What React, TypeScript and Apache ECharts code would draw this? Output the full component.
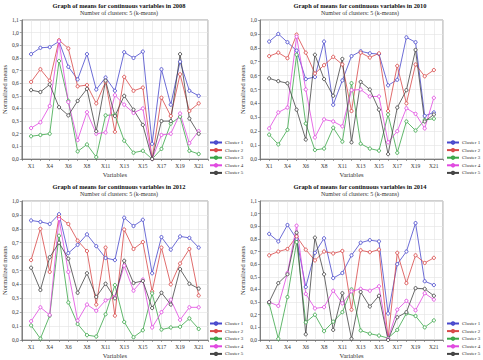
import React, { useEffect, useRef } from "react";
import * as echarts from "echarts";

const CATEGORIES = ["X1","X3","X4","X5","X6","X7","X8","X10","X11","X12","X13","X14","X15","X16","X17","X18","X19","X20","X21"];
const CLUSTERS = ["Cluster 1", "Cluster 2", "Cluster 3", "Cluster 4", "Cluster 5"];
const YEARS = ["2008", "2010", "2012", "2014"];
const Y_MAX = [1.1, 1.0, 1.0, 1.1];

const Y2008_C1 = [0.83,0.88,0.885,0.93,0.73,0.63,0.83,0.55,0.645,0.54,0.845,0.80,0.85,0.12,0.71,0.43,0.77,0.54,0.50];
const Y2008_C2 = [0.61,0.71,0.62,0.94,0.875,0.575,0.585,0.44,0.61,0.215,0.65,0.54,0.565,0.0,0.485,0.34,0.67,0.38,0.44];
const Y2008_C3 = [0.18,0.19,0.20,0.775,0.46,0.06,0.115,0.015,0.345,0.35,0.145,0.05,0.065,0.0,0.08,0.28,0.335,0.065,0.04];
const Y2008_C4 = [0.245,0.29,0.42,0.93,0.45,0.15,0.37,0.20,0.21,0.505,0.43,0.365,0.40,0.0,0.19,0.20,0.36,0.125,0.22];
const Y2008_C5 = [0.545,0.53,0.59,0.41,0.345,0.46,0.555,0.22,0.62,0.34,0.50,0.39,0.27,0.0,0.30,0.30,0.83,0.32,0.20];

const Y2010_C1 = [0.845,0.90,0.84,0.78,0.575,0.59,0.845,0.39,0.565,0.74,0.775,0.76,0.755,0.53,0.57,0.875,0.84,0.31,0.335];
const Y2010_C2 = [0.74,0.765,0.725,0.895,0.765,0.615,0.675,0.735,0.68,0.345,0.765,0.73,0.76,0.345,0.67,0.40,0.68,0.595,0.64];
const Y2010_C3 = [0.175,0.105,0.21,0.75,0.255,0.065,0.075,0.225,0.125,0.545,0.11,0.075,0.06,0.32,0.045,0.27,0.205,0.28,0.29];
const Y2010_C4 = [0.22,0.335,0.37,0.88,0.50,0.155,0.285,0.27,0.235,0.495,0.50,0.45,0.45,0.12,0.20,0.365,0.325,0.22,0.44];
const Y2010_C5 = [0.58,0.56,0.545,0.355,0.14,0.75,0.575,0.455,0.72,0.12,0.555,0.50,0.355,0.035,0.37,0.495,0.785,0.27,0.32];

const Y2012_C1 = [0.86,0.85,0.835,0.905,0.625,0.685,0.76,0.675,0.59,0.575,0.88,0.82,0.865,0.48,0.74,0.65,0.745,0.735,0.665];
const Y2012_C2 = [0.575,0.80,0.49,0.885,0.835,0.715,0.64,0.255,0.665,0.175,0.795,0.655,0.705,0.35,0.665,0.40,0.55,0.655,0.32];
const Y2012_C3 = [0.105,0.01,0.175,0.75,0.27,0.115,0.035,0.025,0.185,0.395,0.13,0.02,0.07,0.335,0.075,0.09,0.095,0.155,0.08];
const Y2012_C4 = [0.135,0.235,0.18,0.87,0.49,0.14,0.255,0.21,0.285,0.31,0.535,0.355,0.435,0.09,0.20,0.29,0.145,0.235,0.235];
const Y2012_C5 = [0.52,0.36,0.595,0.70,0.585,0.34,0.48,0.31,0.405,0.30,0.57,0.41,0.425,0.23,0.34,0.255,0.51,0.405,0.37];

const Y2014_C1 = [0.84,0.78,0.91,0.80,0.42,0.69,0.805,0.49,0.53,0.67,0.77,0.79,0.78,0.21,0.60,0.70,0.925,0.465,0.435];
const Y2014_C2 = [0.67,0.70,0.72,0.82,0.715,0.63,0.70,0.685,0.705,0.24,0.71,0.695,0.715,0.01,0.69,0.45,0.67,0.61,0.65];
const Y2014_C3 = [0.29,0.01,0.34,0.775,0.14,0.20,0.07,0.145,0.22,0.40,0.075,0.05,0.035,0.015,0.08,0.21,0.19,0.10,0.155];
const Y2014_C4 = [0.30,0.27,0.53,0.905,0.365,0.25,0.26,0.39,0.29,0.385,0.405,0.39,0.425,0.01,0.24,0.31,0.235,0.37,0.32];
const Y2014_C5 = [0.30,0.45,0.52,0.85,0.045,0.81,0.52,0.08,0.37,0.01,0.38,0.265,0.35,0.0,0.18,0.22,0.41,0.405,0.35];

const DATA = [
  [Y2008_C1, Y2008_C2, Y2008_C3, Y2008_C4, Y2008_C5],
  [Y2010_C1, Y2010_C2, Y2010_C3, Y2010_C4, Y2010_C5],
  [Y2012_C1, Y2012_C2, Y2012_C3, Y2012_C4, Y2012_C5],
  [Y2014_C1, Y2014_C2, Y2014_C3, Y2014_C4, Y2014_C5],
];

const COLORS = ["#4848cc", "#d84848", "#3aa648", "#e048e0", "#444444"];
const FONT = "Liberation Serif";

const PANELS = [
  { left: 20, top: 20, width: 188, height: 139, titleX: 119, titleY: 2, legendX: 209, legendY: 148 },
  { left: 260, top: 20, width: 183, height: 139, titleX: 360, titleY: 2, legendX: 446, legendY: 148 },
  { left: 20, top: 201, width: 188, height: 139, titleX: 119, titleY: 183, legendX: 209, legendY: 329 },
  { left: 260, top: 201, width: 183, height: 139, titleX: 360, titleY: 183, legendX: 446, legendY: 329 },
];

export default function App() {
  const ref = useRef<HTMLDivElement>(null);
  useEffect(() => {
    if (!ref.current) return;
    const chart = echarts.init(ref.current, null, { renderer: "svg" });
    const title: any[] = [];
    const grid: any[] = [];
    const xAxis: any[] = [];
    const yAxis: any[] = [];
    const legend: any[] = [];
    const series: any[] = [];
    PANELS.forEach((p, i) => {
      title.push({
        text: "Graph of means for continuous variables in " + YEARS[i],
        subtext: "Number of clusters: 5 (k-means)",
        left: p.titleX,
        top: p.titleY,
        textAlign: "center",
        itemGap: 2,
        padding: 0,
        textStyle: { fontFamily: FONT, fontSize: 6.4, fontWeight: "bold", color: "#111" },
        subtextStyle: { fontFamily: FONT, fontSize: 6, color: "#333" },
      });
      grid.push({
        left: p.left, top: p.top, width: p.width, height: p.height,
        show: true, borderColor: "#888", borderWidth: 0.8, backgroundColor: "#fff",
      });
      xAxis.push({
        type: "value", gridIndex: i, min: 0, max: 20, interval: 1,
        name: "Variables", nameLocation: "middle", nameGap: 12,
        nameTextStyle: { fontFamily: FONT, fontSize: 6.5, color: "#333" },
        axisLine: { lineStyle: { color: "#666", width: 0.8 } },
        axisTick: { length: 2, lineStyle: { color: "#666", width: 0.6 } },
        splitLine: { show: true, lineStyle: { color: "#e2e2e2", width: 0.6 } },
        axisLabel: {
          fontFamily: FONT, fontSize: 5.5, color: "#333", margin: 4,
          formatter: (v: number) => (v >= 1 && v <= CATEGORIES.length && v % 2 === 1 ? CATEGORIES[v - 1] : ""),
        },
      });
      yAxis.push({
        type: "value", gridIndex: i, min: 0, max: Y_MAX[i], interval: 0.1,
        name: "Normalized means", nameLocation: "middle", nameGap: 13,
        nameTextStyle: { fontFamily: FONT, fontSize: 6.5, color: "#333" },
        axisLine: { show: true, lineStyle: { color: "#666", width: 0.8 } },
        axisTick: { show: true, length: 2, lineStyle: { color: "#666", width: 0.6 } },
        splitLine: { show: true, lineStyle: { color: "#e2e2e2", width: 0.6 } },
        axisLabel: {
          fontFamily: FONT, fontSize: 5.5, color: "#333", margin: 3,
          formatter: (v: number) => v.toFixed(1).replace(".", ","),
        },
      });
      legend.push({
        orient: "vertical", left: p.legendX, top: p.legendY - 8,
        data: CLUSTERS, itemWidth: 12, itemHeight: 3, itemGap: 2.6, padding: 0,
        textStyle: { fontFamily: FONT, fontSize: 5, color: "#333", padding: [0, 0, 0, -2] },
        selectedMode: false,
      });
      CLUSTERS.forEach((name, c) => {
        series.push({
          type: "line", name, xAxisIndex: i, yAxisIndex: i,
          data: DATA[i][c].map((v, k) => [k + 1, v]),
          symbol: "circle", symbolSize: 3.2, showSymbol: true,
          color: COLORS[c],
          lineStyle: { width: 0.8, color: COLORS[c] },
          itemStyle: { color: "#fff", borderColor: COLORS[c], borderWidth: 0.9 },
        });
      });
    });
    chart.setOption({
      animation: false,
      backgroundColor: "#fff",
      title, grid, xAxis, yAxis, legend, series,
    });
    return () => chart.dispose();
  }, []);
  return (
    <div
      ref={ref}
      style={{ position: "absolute", left: 0, top: 0, width: 483, height: 360, background: "#fff" }}
    />
  );
}
